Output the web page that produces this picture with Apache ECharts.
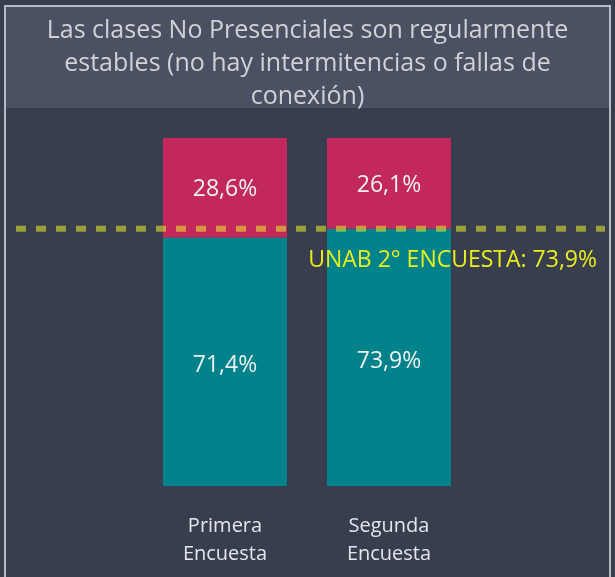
<!DOCTYPE html>
<html>
<head>
<meta charset="utf-8">
<script src="https://cdn.jsdelivr.net/npm/echarts@6/dist/echarts.min.js"></script>
<style>
  html, body { margin: 0; padding: 0; background: #393e4f; }
  #main { width: 615px; height: 577px; }
</style>
</head>
<body>
<div id="main"></div>
<script>
var categories = ['Primera\nEncuesta', 'Segunda\nEncuesta'];
var estables = [71.4, 73.9];
var noEstables = [28.6, 26.1];
var referencia = 73.9;
var refLabel = 'UNAB 2° ENCUESTA: 73,9%';

var chart = echarts.init(document.getElementById('main'), null, { renderer: 'canvas' });
var font = '"Segoe UI", "Open Sans", "Noto Sans", sans-serif';

function pct(v) {
  return v.toFixed(1).replace('.', ',') + '%';
}

var option = {
  backgroundColor: '#393e4f',
  animation: false,
  textStyle: { fontFamily: font },
  graphic: [
    {
      type: 'rect', silent: true, z: -1,
      shape: { x: 6, y: 7, width: 603, height: 101 },
      style: { fill: '#4b5162' }
    },
    {
      type: 'rect', silent: true, z: -1,
      shape: { x: 5, y: 6, width: 605, height: 580 },
      style: { fill: 'none', stroke: '#b8bcc2', lineWidth: 2 }
    }
  ],
  title: {
    text: 'Las clases No Presenciales son regularmente\nestables (no hay intermitencias o fallas de\nconexión)',
    left: 'center',
    top: 9,
    textStyle: {
      fontFamily: font,
      fontSize: 25,
      fontWeight: 'normal',
      color: '#cfd2d7',
      lineHeight: 33
    }
  },
  grid: [
    { left: 143, right: 144, top: 138, bottom: 91 },
    { left: 16, right: 10, top: 138, bottom: 91 }
  ],
  xAxis: [
    {
      type: 'category',
      gridIndex: 0,
      data: categories,
      axisLine: { show: false },
      axisTick: { show: false },
      axisLabel: {
        margin: 26,
        fontSize: 20,
        lineHeight: 28,
        color: '#e2e6ec',
        fontFamily: font
      }
    },
    { type: 'value', gridIndex: 1, min: 0, max: 1, show: false }
  ],
  yAxis: [
    { type: 'value', gridIndex: 0, min: 0, max: 100, show: false },
    { type: 'value', gridIndex: 1, min: 0, max: 100, show: false }
  ],
  series: [
    {
      name: 'Sí',
      type: 'bar',
      stack: 'total',
      barWidth: 124,
      data: estables,
      itemStyle: { color: '#00828a' },
      label: {
        show: true,
        position: 'inside',
        offset: [0, 4],
        fontSize: 23,
        color: '#eef2f4',
        fontFamily: font,
        formatter: function (p) { return pct(p.value); }
      }
    },
    {
      name: 'No',
      type: 'bar',
      stack: 'total',
      barWidth: 124,
      data: noEstables,
      itemStyle: { color: '#c2285c' },
      label: {
        show: true,
        position: 'inside',
        offset: [0, 2],
        fontSize: 23,
        color: '#eef2f4',
        fontFamily: font,
        formatter: function (p) { return pct(p.value); }
      }
    },
    {
      name: 'Referencia',
      type: 'line',
      xAxisIndex: 1,
      yAxisIndex: 1,
      symbol: 'none',
      z: 5,
      data: [[0, referencia], [1, referencia]],
      lineStyle: { color: 'rgba(234,238,40,0.55)', width: 6, type: [10, 10] },
      markLine: {
        silent: true,
        symbol: 'none',
        lineStyle: { color: 'rgba(0,0,0,0)', width: 1 },
        data: [{ yAxis: referencia }],
        label: {
          show: true,
          position: 'insideEndBottom',
          distance: [8, 20],
          formatter: refLabel,
          fontSize: 23,
          color: '#e8f01c',
          fontFamily: font
        }
      }
    }
  ]
};

chart.setOption(option);
</script>
</body>
</html>
